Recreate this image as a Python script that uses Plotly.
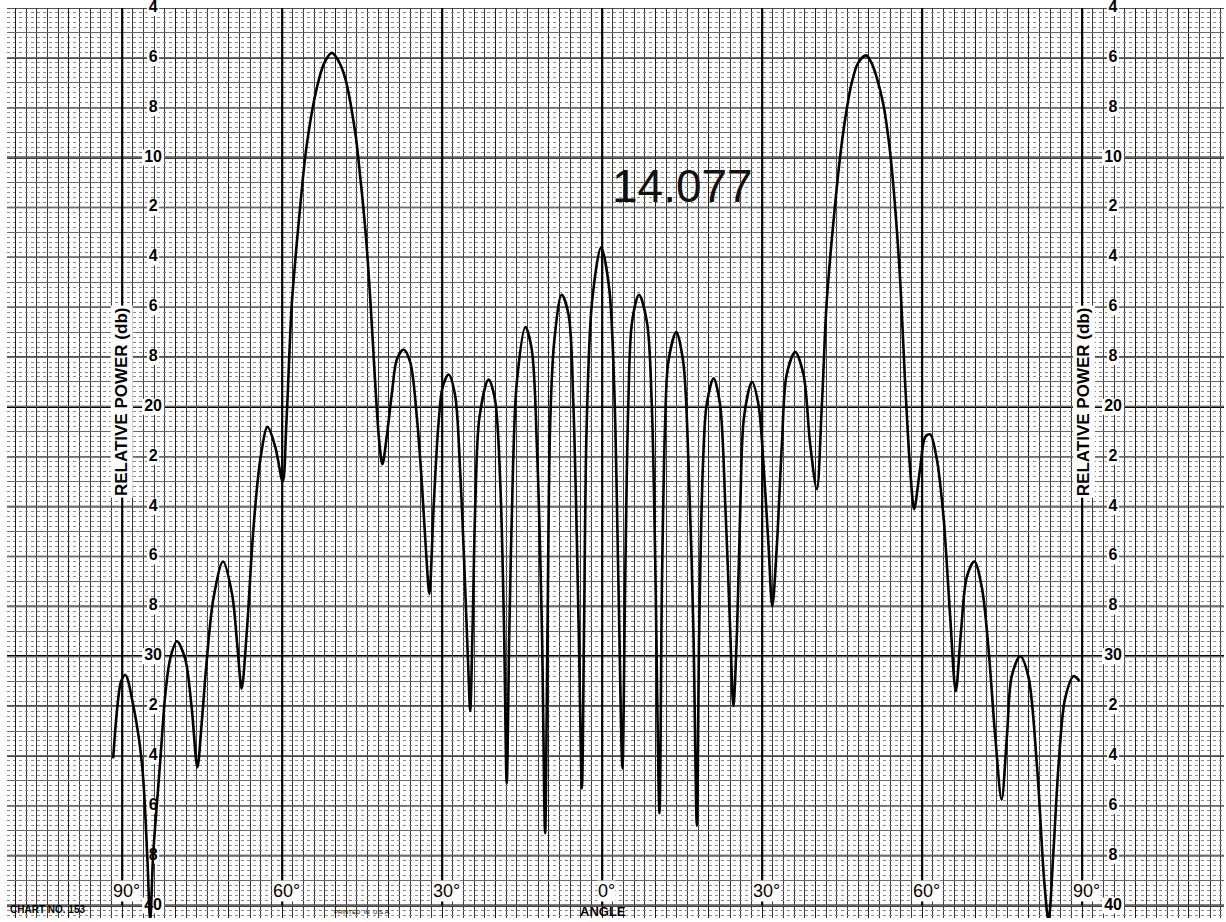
import plotly.graph_objects as go

# ---- data ----
angle_deg = [
    -91.7, -90.8, -90.2, -89.4, -87.9, -86.3, -85.3, -84.75, -84.2, -82.9, -81.9, -81.0, -79.75,
    -78.2, -77.0, -75.9, -75.1, -74.2, -72.9, -71.1, -69.4, -68.4, -67.6, -66.6, -65.4,
    -64.1, -62.75, -61.3, -59.9, -59.2, -58.2, -56.9, -55.4, -53.5, -52.1, -50.7, -49.5,
    -48.2, -46.3, -45.4, -44.4, -43.5, -42.6, -41.8, -41.2, -40.4, -39.4, -38.5, -37.25,
    -36.0, -34.75, -33.8, -33.0, -32.4, -31.6, -30.7, -29.9, -28.8, -27.6, -26.6, -25.7,
    -25.1, -24.75, -24.3, -23.8, -23.0, -21.3, -20.1, -19.1, -18.4, -17.9, -17.4, -16.7,
    -16.0, -14.4, -13.2, -12.25, -11.3, -10.7, -10.25, -9.75, -9.0, -7.6, -6.3, -5.4,
    -4.4, -3.8, -3.4, -2.9, -1.9, -0.2, 1.3, 2.3, 3.06, 3.8, 4.3, 4.9,
    5.6, 6.9, 8.4, 9.3, 9.9, 10.75, 11.2, 11.8, 12.4, 13.9, 15.2, 16.2,
    17.1, 17.75, 18.2, 18.9, 19.6, 20.9, 22.1, 23.1, 24.0, 24.6, 25.3, 25.9,
    26.6, 28.1, 29.3, 30.25, 31.2, 31.9, 32.75, 33.7, 34.6, 36.2, 37.75, 39.0,
    40.25, 41.2, 42.1, 43.4, 44.6, 45.6, 46.8, 48.0, 49.5, 50.5, 51.5, 52.75,
    54.0, 54.9, 55.9, 56.8, 57.75, 58.5, 59.6, 60.6, 61.5, 62.75, 64.0, 65.25,
    66.3, 67.25, 68.4, 69.8, 71.2, 72.4, 73.7, 74.9, 75.9, 76.8, 78.4, 79.9,
    81.5, 82.9, 83.7, 84.6, 85.6, 86.8, 88.4, 89.5,
]
power_db = [
    34.1, 31.8, 31.0, 30.75, 32.0, 34.3, 38.0, 40.6, 38.0, 34.3, 31.5, 30.1, 29.4,
    30.1, 32.0, 34.45, 32.7, 30.3, 27.7, 26.2, 27.5, 29.6, 31.3, 28.9, 24.9,
    22.1, 20.8, 21.6, 23.0, 20.6, 15.9, 12.6, 9.5, 7.2, 6.2, 5.8, 6.1,
    6.8, 9.0, 10.7, 12.9, 15.6, 18.9, 21.4, 22.3, 21.2, 19.4, 18.1, 17.7,
    18.2, 20.4, 23.1, 25.9, 27.5, 24.0, 20.7, 19.2, 18.7, 19.5, 22.7, 27.2,
    30.5, 32.2, 28.9, 24.0, 20.4, 18.9, 19.7, 23.1, 28.9, 35.1, 28.9, 22.3,
    19.0, 16.8, 17.7, 21.5, 28.9, 37.1, 28.9, 20.7, 17.4, 15.5, 16.3, 19.9,
    28.9, 35.3, 28.9, 20.7, 15.8, 13.6, 15.2, 19.5, 27.2, 34.5, 27.2, 19.9,
    16.6, 15.5, 16.6, 19.9, 25.6, 36.3, 27.2, 20.7, 18.2, 17.0, 18.2, 22.3,
    28.9, 36.8, 28.9, 22.3, 19.9, 18.85, 19.9, 24.0, 28.9, 32.0, 28.9, 24.0,
    20.4, 19.0, 19.9, 22.3, 25.6, 28.0, 25.6, 21.5, 18.7, 17.8, 18.7, 21.5,
    23.3, 19.9, 15.8, 12.5, 10.0, 8.4, 7.0, 6.2, 5.9, 6.2, 6.8, 7.9,
    9.8, 11.9, 15.0, 19.0, 22.5, 24.1, 22.5, 21.2, 21.1, 22.1, 24.4, 28.4,
    31.4, 29.1, 26.8, 26.2, 27.25, 29.6, 33.2, 35.75, 33.2, 30.8, 30.0, 30.8,
    34.3, 39.05, 40.6, 37.9, 34.3, 31.7, 30.8, 31.0,
]

db_tick_values = [4, 6, 8, 10, 12, 14, 16, 18, 20, 22, 24, 26, 28, 30, 32, 34, 36, 38, 40]
db_tick_labels = ["4", "6", "8", "10", "2", "4", "6", "8", "20", "2", "4", "6", "8",
                  "30", "2", "4", "6", "8", "40"]
db_heavy_values = [10, 20, 30, 40]
angle_tick_values = [-90, -60, -30, 0, 30, 60, 90]
angle_tick_labels = ["90°", "60°", "30°", "0°", "30°", "60°", "90°"]
chart_value_text = "14.077"
y_title = "RELATIVE POWER (db)"
x_title = "ANGLE"
chart_no_text = "CHART NO. 153"
printed_text = "PRINTED  IN  U.S.A."

FONT = "Liberation Sans"
X_RANGE = [-111.6, 116.6]
Y_RANGE = [40.5, 4.0]
LEFT_LABEL_X = -84.2
RIGHT_LABEL_X = 95.8

fig = go.Figure()

# dB scale numerals printed on the chart paper (drawn under the pen trace)
for xa in (LEFT_LABEL_X, RIGHT_LABEL_X):
    fig.add_trace(go.Scatter(
        x=[xa] * len(db_tick_values), y=db_tick_values, mode="text", text=db_tick_labels,
        textposition="middle center",
        textfont=dict(family=FONT, size=16, color="#000", weight="bold"),
        hoverinfo="skip", showlegend=False, cliponaxis=False,
    ))

# the recorded pattern
fig.add_trace(go.Scatter(
    x=angle_deg, y=power_db, mode="lines",
    line=dict(color="#000000", width=2.6, shape="spline", smoothing=0.9),
    hoverinfo="skip", showlegend=False,
))

shapes = []
# white strip below the 40 dB line (paper edge)
shapes.append(dict(type="rect", xref="paper", yref="y", x0=0, x1=1, y0=40, y1=Y_RANGE[0],
                   fillcolor="white", line=dict(width=0), layer="between"))
# 2 dB and 10 dB horizontal rulings
for v in db_tick_values:
    heavy = v in db_heavy_values
    shapes.append(dict(type="line", xref="paper", yref="y", x0=0, x1=1, y0=v, y1=v,
                       line=dict(color="#000" if heavy else "#151515", width=2.2 if heavy else 1.6),
                       layer="between"))
# 30 degree vertical rulings
for a in angle_tick_values:
    shapes.append(dict(type="line", xref="x", yref="y", x0=a, x1=a, y0=4, y1=40,
                       line=dict(color="#000", width=2.2), layer="between"))
# white boxes behind the dB numerals
for xa in (LEFT_LABEL_X, RIGHT_LABEL_X):
    for v, lab in zip(db_tick_values, db_tick_labels):
        hw = 6 if len(lab) == 1 else 11
        shapes.append(dict(
            type="rect", xref="x", yref="y", xsizemode="pixel", ysizemode="pixel",
            xanchor=xa, yanchor=v, x0=-hw, x1=hw, y0=-8, y1=8,
            fillcolor="white", line=dict(width=0), layer="between",
        ))

annotations = []
for a, lab in zip(angle_tick_values, angle_tick_labels):
    annotations.append(dict(x=a, y=39.43, xref="x", yref="y", text=lab, showarrow=False,
                            xshift=4, font=dict(family=FONT, size=18, color="#000"),
                            bgcolor="white", borderpad=0))
for xa in (-90.0, 90.4):
    annotations.append(dict(x=xa, y=19.8, xref="x", yref="y", text=y_title, showarrow=False,
                            textangle=-90,
                            font=dict(family=FONT, size=17, color="#000", weight="bold"),
                            bgcolor="white", borderpad=1))
annotations.append(dict(x=15.1, y=11.12, xref="x", yref="y", text=chart_value_text, showarrow=False,
                        font=dict(family=FONT, size=46, color="#111")))
annotations.append(dict(x=0.1, y=40.22, xref="x", yref="y", text=x_title, showarrow=False,
                        font=dict(family=FONT, size=13, color="#000", weight="bold")))
annotations.append(dict(x=-111.5, y=40.15, xref="x", yref="y", text=chart_no_text, showarrow=False,
                        xanchor="left", font=dict(family=FONT, size=10, color="#000", weight="bold")))
annotations.append(dict(x=-45.0, y=40.25, xref="x", yref="y", text=printed_text, showarrow=False,
                        font=dict(family=FONT, size=6, color="#000")))

fig.update_layout(
    width=1226, height=922,
    margin=dict(l=7, r=2, t=8, b=4, pad=0),
    paper_bgcolor="white", plot_bgcolor="white",
    showlegend=False,
    xaxis=dict(range=X_RANGE, showticklabels=False, ticks="", zeroline=False, showline=False,
               showgrid=True, tick0=0, dtick=10, gridcolor="#1c1c1c", gridwidth=1.3,
               minor=dict(tick0=0, dtick=2, showgrid=True, gridcolor="#3a3a3a", gridwidth=1)),
    yaxis=dict(range=Y_RANGE, showticklabels=False, ticks="", zeroline=False, showline=False,
               showgrid=True, tick0=0, dtick=1, gridcolor="#6a6a6a", gridwidth=1,
               minor=dict(tick0=0, dtick=0.2, showgrid=True, gridcolor="#8a8a8a",
                          griddash="dot", gridwidth=1)),
    shapes=shapes,
    annotations=annotations,
)

fig.write_html(
    "out.html",
    config={"displayModeBar": False},
    post_script="document.body.style.margin='0';document.body.style.overflow='hidden';",
)
